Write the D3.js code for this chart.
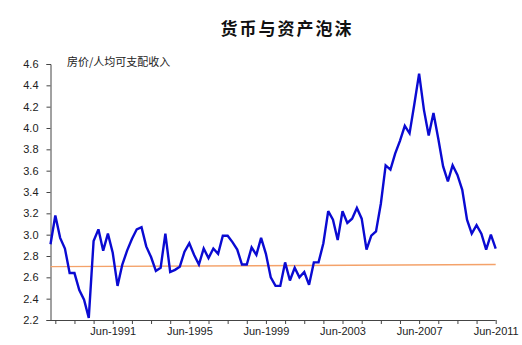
<!DOCTYPE html>
<html>
<head>
<meta charset="utf-8">
<script src="https://cdn.jsdelivr.net/npm/d3@7"></script>
<style>
  html, body { margin: 0; padding: 0; background: #fff; }
  svg { display: block; }
</style>
</head>
<body>
<svg id="chart" width="522" height="345"></svg>
<script>
// Quarterly ratio of house price to per-capita disposable income, Mar-1988 .. Jun-2011
const firstQuarter = { year: 1988, month: 3 };
const ratio = [
  2.91, 3.18, 2.97, 2.87, 2.64, 2.64, 2.48, 2.39, 2.22, 2.94,
  3.05, 2.85, 3.01, 2.83, 2.52, 2.72, 2.85, 2.96, 3.05, 3.07,
  2.89, 2.79, 2.66, 2.69, 3.01, 2.65, 2.67, 2.70, 2.84, 2.92,
  2.81, 2.72, 2.87, 2.78, 2.87, 2.82, 2.99, 2.99, 2.93, 2.86,
  2.72, 2.72, 2.88, 2.81, 2.97, 2.82, 2.60, 2.52, 2.52, 2.74,
  2.57, 2.69, 2.60, 2.65, 2.53, 2.74, 2.74, 2.92, 3.22, 3.14,
  2.95, 3.22, 3.11, 3.15, 3.25, 3.15, 2.86, 2.99, 3.03, 3.29,
  3.65, 3.61, 3.76, 3.88, 4.02, 3.95, 4.22, 4.51, 4.17, 3.93,
  4.14, 3.90, 3.64, 3.50, 3.65, 3.56, 3.42, 3.14, 3.01, 3.09,
  3.01, 2.86, 3.00, 2.87
];
// Long-run trend line (start, end)
const trend = [2.70, 2.72];

const yTicks = [2.2, 2.4, 2.6, 2.8, 3.0, 3.2, 3.4, 3.6, 3.8, 4.0, 4.2, 4.4, 4.6];
const labelYears = [1991, 1995, 1999, 2003, 2007, 2011];
const tickYears = d3.range(1988, 2012);

const title = "货币与资产泡沫";
const seriesLabel = "房价/人均可支配收入";

const dates = ratio.map((_, i) => new Date(firstQuarter.year, firstQuarter.month - 1 + 3 * i, 15));
const data = ratio.map((v, i) => ({ date: dates[i], value: v }));
const trendData = [
  { date: dates[0], value: trend[0] },
  { date: dates[dates.length - 1], value: trend[1] }
];

const svg = d3.select("#chart");
const plotLeft = 50.5, plotRight = 495.7, plotTop = 64, plotBottom = 320;

const x = d3.scaleTime()
  .domain([dates[0], dates[dates.length - 1]])
  .range([plotLeft, plotRight]);
const y = d3.scaleLinear()
  .domain([2.2, 4.6])
  .range([plotBottom, plotTop]);

const axisColor = "#444";
const fontFamily = "'Liberation Sans', Arial, sans-serif";

// Title
svg.append("text")
  .attr("x", 287).attr("y", 35)
  .attr("text-anchor", "middle")
  .attr("font-family", "'Noto Sans CJK SC', sans-serif")
  .attr("font-weight", "bold")
  .attr("font-size", 17)
  .attr("letter-spacing", 2)
  .attr("fill", "#111")
  .text(title);

// Series label
svg.append("text")
  .attr("x", 67).attr("y", 66)
  .attr("font-family", "'Noto Sans CJK SC', sans-serif")
  .attr("font-size", 11)
  .attr("fill", "#222")
  .text(seriesLabel);

// Y axis
const yAxis = d3.axisLeft(y)
  .tickValues(yTicks)
  .tickFormat(d3.format(".1f"))
  .tickSize(4)
  .tickPadding(8);
const gy = svg.append("g")
  .attr("transform", `translate(${plotLeft},0)`)
  .call(yAxis);

// X axis: a tick every June, labels every fourth year
const xAxis = d3.axisBottom(x)
  .tickValues(tickYears.map(yr => new Date(yr, 5, 15)))
  .tickFormat(d => labelYears.includes(d.getFullYear()) ? "Jun-" + d.getFullYear() : "")
  .tickSize(4)
  .tickPadding(3);
const gx = svg.append("g")
  .attr("transform", `translate(0,${plotBottom})`)
  .call(xAxis);

[gx, gy].forEach(g => {
  g.select(".domain").attr("stroke", axisColor).attr("stroke-width", 1);
  g.selectAll(".tick line").attr("stroke", axisColor);
  g.selectAll(".tick text")
    .attr("fill", "#222")
    .attr("font-family", fontFamily)
    .attr("font-size", 11);
});
gx.select(".domain").attr("d", `M${plotLeft},0.5H${plotRight}`);

const line = d3.line()
  .x(d => x(d.date))
  .y(d => y(d.value));

// Trend line
svg.append("path")
  .datum(trendData)
  .attr("d", line)
  .attr("fill", "none")
  .attr("stroke", "#F4A26A")
  .attr("stroke-width", 1.4);

// Ratio series
svg.append("path")
  .datum(data)
  .attr("d", line)
  .attr("fill", "none")
  .attr("stroke", "#0A0AD2")
  .attr("stroke-width", 2.4)
  .attr("stroke-linejoin", "miter")
  .attr("stroke-miterlimit", 3);
</script>
</body>
</html>
